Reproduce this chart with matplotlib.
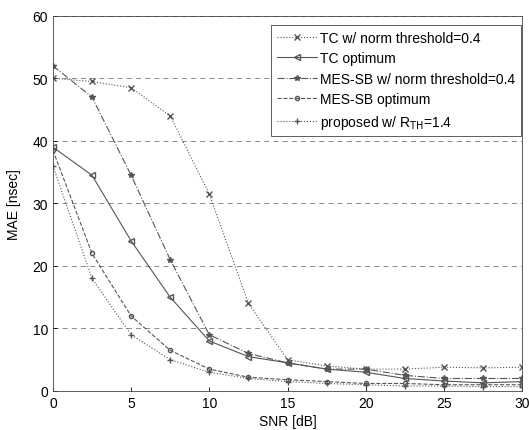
import matplotlib
matplotlib.use('Agg')
import matplotlib.pyplot as plt

plt.rcParams['font.family'] = ['Liberation Sans', 'DejaVu Sans']
plt.rcParams['font.size'] = 10

# SNR points (dB)
snr = [0, 2.5, 5, 7.5, 10, 12.5, 15, 17.5, 20, 22.5, 25, 27.5, 30]

# MAE values [nsec]
tc_thr = [50, 49.5, 48.5, 44, 31.5, 14, 5, 4, 3.5, 3.5, 3.8, 3.7, 3.8]
tc_opt = [39, 34.5, 24, 15, 8, 5.5, 4.5, 3.5, 3, 2, 1.6, 1.3, 1.5]
mes_thr = [52, 47, 34.5, 21, 9, 6, 4.5, 3.5, 3.5, 2.5, 2, 2, 2]
mes_opt = [38.5, 22, 12, 6.5, 3.5, 2.2, 1.8, 1.5, 1.2, 1.2, 1, 1, 1]
proposed = [36, 18, 9, 5, 3, 2, 1.5, 1.2, 1, 0.8, 0.8, 0.7, 0.7]

labels = ['TC w/ norm threshold=0.4', 'TC optimum',
          'MES-SB w/ norm threshold=0.4', 'MES-SB optimum',
          r'proposed w/ R$_{\mathrm{TH}}$=1.4']

fig = plt.figure(figsize=(5.29, 4.31), dpi=100)
ax = fig.add_axes([0.100, 0.0905, 0.887, 0.8705])

lc = '#555555'
ax.plot(snr, tc_thr, ls=':', marker='x', ms=4, lw=0.8, color=lc, label=labels[0])
ax.plot(snr, tc_opt, ls='-', marker='<', ms=4, lw=0.8, color=lc, mfc='none', label=labels[1])
ax.plot(snr, mes_thr, ls='-.', marker='*', ms=4, lw=0.8, color=lc, label=labels[2])
ax.plot(snr, mes_opt, ls='--', marker='o', ms=3, lw=0.8, color=lc, mfc='none', label=labels[3])
ax.plot(snr, proposed, ls=':', marker='+', ms=4, lw=0.8, color=lc, label=labels[4])

ax.set_xlim(0, 30)
ax.set_ylim(0, 60)
ax.set_xticks([0, 5, 10, 15, 20, 25, 30])
ax.set_yticks([0, 10, 20, 30, 40, 50, 60])
ax.tick_params(direction='in', length=3, width=0.6, labelsize=10)
ax.yaxis.grid(True, ls=(0, (6, 5)), color='#777777', lw=0.6)
for s in ax.spines.values():
    s.set_linewidth(0.6)
    s.set_color('#444444')

ax.set_xlabel('SNR [dB]', labelpad=3)
ax.set_ylabel('MAE [nsec]', labelpad=8)

leg = ax.legend(loc='upper right', bbox_to_anchor=(0.997, 0.975),
                fancybox=False, edgecolor='#444444', framealpha=1,
                handlelength=2.9, handletextpad=0.2, labelspacing=0.47,
                borderaxespad=0, borderpad=0.4, fontsize=10)
leg.get_frame().set_linewidth(0.6)

fig.savefig('out.png', dpi=100)
